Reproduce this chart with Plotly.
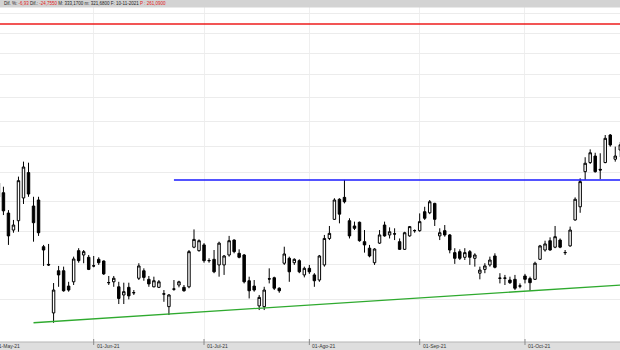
import math
import pandas as pd
import plotly.graph_objects as go

# ---------------- data ----------------
holidays = ["2021-05-31", "2021-07-05", "2021-09-06"]
sessions = [d for d in pd.bdate_range("2021-05-03", "2021-10-28")
            if d.strftime("%Y-%m-%d") not in holidays]
first_candle_date = "2021-05-04"

opens = [292.8, 295.8, 282.0, 271.0, 277.0, 292.2, 310.1, 286.7, 290.8, 260.6,
         250.0, 223.1, 246.3, 246.3, 237.6, 240.0, 258.2, 255.6, 254.2, 249.2,
         253.0, 252.0, 239.6, 240.0, 237.2, 232.7, 236.9, 234.0, 242.0, 246.3,
         241.4, 237.2, 236.9, 233.3, 226.4, 236.0, 238.2, 236.9, 237.2, 260.3,
         258.2, 261.7, 252.3, 253.0, 249.7, 249.7, 255.6, 264.7, 256.6, 255.6,
         240.6, 237.6, 226.8, 226.4, 241.7, 242.3, 236.4, 250.7, 253.6, 251.0,
         252.2, 243.9, 247.7, 243.9, 241.0, 249.7, 265.7, 277.9, 291.3, 292.6,
         277.0, 273.6, 276.0, 263.7, 259.7, 251.0, 262.8, 274.2, 267.9, 268.6,
         263.7, 259.0, 267.3, 270.7, 270.6, 282.9, 282.2, 288.5, 267.3, 270.6,
         267.9, 257.0, 257.6, 254.2, 257.6, 253.6, 244.9, 247.1, 249.7, 255.0,
         242.1, 242.0, 241.0, 241.4, 237.7, 243.3, 241.8, 241.4, 253.0, 258.6,
         264.3, 260.3, 264.7, 257.1, 261.1, 277.5, 286.2, 310.8, 317.5, 322.4,
         312.5, 317.5, 338.7, 320.0, 327.0]
highs = [306.2, 300.0, 284.0, 277.5, 307.2, 318.2, 317.4, 293.0, 293.0, 261.7,
         262.3, 239.3, 249.1, 248.7, 240.0, 254.6, 259.7, 258.6, 255.6, 255.0,
         254.2, 252.3, 243.3, 243.3, 240.0, 239.5, 239.5, 235.4, 250.7, 247.7,
         243.3, 242.9, 241.0, 235.4, 233.2, 241.0, 240.6, 238.2, 258.6, 271.4,
         265.1, 262.8, 253.6, 258.6, 263.7, 255.6, 267.3, 265.1, 259.0, 256.2,
         242.9, 241.0, 232.7, 237.2, 247.7, 242.9, 236.9, 260.6, 254.6, 253.6,
         253.0, 248.7, 249.7, 244.9, 255.6, 267.9, 273.6, 292.0, 292.0, 304.8,
         278.6, 276.4, 276.4, 271.0, 261.7, 259.7, 271.0, 276.4, 272.7, 272.1,
         265.7, 269.9, 273.6, 271.4, 281.8, 286.2, 290.8, 288.9, 272.1, 274.2,
         268.5, 259.7, 259.0, 259.7, 258.6, 256.6, 248.7, 250.7, 254.6, 256.6,
         244.9, 243.9, 242.9, 243.9, 239.1, 244.5, 242.9, 251.6, 261.7, 264.3,
         266.4, 273.6, 265.7, 258.6, 273.2, 292.6, 306.0, 321.5, 327.5, 324.9,
         324.5, 338.7, 339.5, 329.6, 333.2]
lows = [290.8, 280.7, 261.7, 269.3, 269.9, 288.1, 293.0, 263.7, 267.3, 249.1,
        249.1, 218.0, 237.2, 234.5, 234.5, 238.2, 251.0, 250.7, 246.7, 248.3,
        249.7, 243.9, 238.2, 237.2, 227.8, 227.8, 230.3, 232.7, 241.0, 240.6,
        237.2, 236.9, 236.5, 229.0, 222.0, 235.0, 236.9, 234.5, 236.4, 259.7,
        257.6, 251.0, 251.0, 244.9, 242.9, 243.9, 254.6, 256.6, 253.6, 239.1,
        230.8, 234.5, 224.6, 224.6, 239.1, 235.4, 233.9, 249.7, 240.0, 249.7,
        244.9, 242.5, 244.5, 237.2, 240.0, 248.7, 264.7, 277.5, 275.3, 288.5,
        265.7, 271.0, 263.7, 257.0, 254.2, 249.7, 262.3, 266.8, 265.7, 264.7,
        258.6, 258.6, 266.8, 269.3, 269.9, 277.5, 281.3, 273.6, 264.7, 266.8,
        256.6, 250.3, 252.6, 252.6, 249.7, 248.7, 241.4, 244.9, 248.7, 247.7,
        239.1, 238.2, 238.8, 235.4, 236.4, 239.1, 235.0, 241.0, 252.6, 257.6,
        258.2, 259.7, 259.7, 255.6, 260.6, 277.0, 282.2, 304.8, 316.5, 310.1,
        305.3, 317.0, 329.6, 318.2, 321.7]
closes = [302.6, 283.5, 267.3, 274.2, 304.3, 314.2, 294.9, 275.7, 269.3, 258.6,
          249.7, 235.4, 243.9, 235.0, 235.4, 253.2, 252.2, 257.6, 247.1, 249.1,
          251.0, 244.5, 239.5, 242.0, 230.8, 234.5, 232.2, 233.9, 249.1, 242.5,
          238.8, 240.6, 240.0, 233.2, 232.7, 235.9, 240.0, 235.0, 257.6, 265.1,
          264.3, 252.2, 252.2, 245.7, 262.8, 255.0, 264.3, 257.6, 254.2, 240.0,
          235.0, 235.4, 231.4, 235.4, 241.6, 236.4, 235.0, 256.2, 245.7, 253.0,
          245.7, 247.7, 245.7, 240.6, 255.0, 265.7, 268.9, 290.8, 281.3, 289.6,
          267.3, 272.1, 264.3, 261.7, 255.0, 259.2, 267.9, 267.3, 269.9, 268.5,
          259.0, 269.3, 273.2, 270.6, 276.4, 278.6, 289.6, 277.9, 269.3, 267.9,
          258.6, 253.6, 253.6, 257.0, 254.2, 255.6, 246.7, 249.1, 252.6, 248.3,
          242.0, 242.1, 239.5, 236.4, 237.6, 241.4, 239.5, 250.7, 261.1, 262.3,
          258.6, 266.8, 260.3, 257.0, 271.0, 291.3, 303.6, 317.0, 324.9, 310.8,
          312.0, 336.1, 330.9, 322.4, 331.0]

month_labels = ["01-May-21", "01-Jun-21", "01-Jul-21", "01-Ago-21", "01-Sep-21", "01-Oct-21"]
grid_prices = [230, 250, 270, 290, 310, 330, 350, 370, 390, 410, 430, 450]

upper_level = 439.6                       # red horizontal line
resistance_level = 304.8                  # blue horizontal line
resistance_start = "2021-06-23"
support_dates = ["2021-05-13", "2021-10-28"]   # green trend line
support_prices = [218.0, 238.2]

header_parts = [("Dif. %: ", "#222"), ("-6,93", "#e02020"), (" Dif.: ", "#222"),
                ("-24,7550", "#e02020"), (" M: 333,1700 m: 321,6800 F: 10-11-2021 ", "#222"),
                ("P : 261,0900", "#e02020")]

# ---------------- positions ----------------
pos = {d.strftime("%Y-%m-%d"): i for i, d in enumerate(sessions)}
start = pos[first_candle_date]
xs = list(range(start, start + len(opens)))
month_idx = []
seen = set()
for i, d in enumerate(sessions):
    key = (d.year, d.month)
    if key not in seen:
        seen.add(key)
        month_idx.append(i)

W, H = 620, 350
x_range = [1.316, 124.945]
y_range = [math.log10(204.5), math.log10(465.0)]


def to_paper_x(v):
    return (v - x_range[0]) / (x_range[1] - x_range[0])


fig = go.Figure()

fig.add_trace(go.Candlestick(
    x=xs, open=opens, high=highs, low=lows, close=closes,
    increasing=dict(line=dict(color="black", width=1), fillcolor="white"),
    decreasing=dict(line=dict(color="black", width=1), fillcolor="black"),
    whiskerwidth=0, showlegend=False, hoverinfo="skip"))

last = len(sessions) - 1
fig.add_trace(go.Scatter(x=[0, last], y=[upper_level, upper_level], mode="lines",
                         line=dict(color="#ee1c1c", width=1.5), showlegend=False, hoverinfo="skip"))
fig.add_trace(go.Scatter(x=[pos[resistance_start], last], y=[resistance_level, resistance_level],
                         mode="lines", line=dict(color="#1a1aff", width=1.5),
                         showlegend=False, hoverinfo="skip"))
fig.add_trace(go.Scatter(x=[pos[d] for d in support_dates], y=support_prices, mode="lines",
                         line=dict(color="#2faa2f", width=1.3), showlegend=False, hoverinfo="skip"))

shapes = []
# header bar
shapes.append(dict(type="rect", xref="paper", yref="paper", x0=0, x1=1,
                   y0=1 - 7.5 / H, y1=1, fillcolor="#d3d3d3", line=dict(width=0), layer="above"))
# bottom bar
shapes.append(dict(type="rect", xref="paper", yref="paper", x0=0, x1=1,
                   y0=0, y1=8 / H, fillcolor="#dedede", line=dict(width=0), layer="above"))
shapes.append(dict(type="line", xref="paper", yref="paper", x0=0, x1=1,
                   y0=8 / H, y1=8 / H, line=dict(color="#b5b5b5", width=1), layer="above"))
for mi in month_idx:
    shapes.append(dict(type="line", xref="paper", yref="paper", x0=to_paper_x(mi), x1=to_paper_x(mi),
                       y0=5 / H, y1=11 / H, line=dict(color="#8a8a8a", width=1), layer="above"))

annotations = []
for mi, lab in zip(month_idx, month_labels):
    annotations.append(dict(x=to_paper_x(mi), y=4 / H, xref="paper", yref="paper", text=lab,
                            showarrow=False, xanchor="left", yanchor="middle", xshift=1,
                            font=dict(family="Liberation Sans", size=5, color="#333")))
header = "".join(f"<span style='color:{c}'>{t.replace(' ', '&nbsp;')}</span>" for t, c in header_parts)
annotations.append(dict(x=2 / W, y=1 - 3.8 / H, xref="paper", yref="paper", text=header,
                        showarrow=False, xanchor="left", yanchor="middle",
                        font=dict(family="Liberation Sans", size=4.5, color="#222")))

fig.update_layout(
    width=W, height=H, margin=dict(l=0, r=0, t=0, b=0),
    paper_bgcolor="white", plot_bgcolor="white",
    xaxis=dict(range=x_range, tickvals=month_idx, showticklabels=False, ticks="",
               showgrid=True, gridcolor="#efefef", gridwidth=1, zeroline=False,
               rangeslider=dict(visible=False), fixedrange=True),
    yaxis=dict(type="log", range=y_range, tickvals=grid_prices, showticklabels=False,
               ticks="", showgrid=True, gridcolor="#ececec", gridwidth=1, zeroline=False,
               fixedrange=True),
    shapes=shapes, annotations=annotations, showlegend=False,
)

fig.write_html("out.html", config={"displayModeBar": False})
